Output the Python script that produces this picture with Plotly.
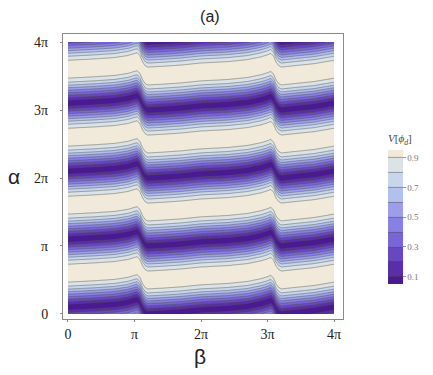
import numpy as np
import plotly.graph_objects as go

# positions, in units of pi
beta_knots = [0.0, 0.4, 0.7, 0.9, 1.0, 1.04, 1.08, 1.12, 1.16, 1.2, 1.4, 1.7, 2.0, 2.4, 2.7, 2.9, 3.0,
              3.05, 3.09, 3.13, 3.17, 3.21, 3.4, 3.7, 4.0]
# alpha position of the dark band centre (minus the integer multiple of pi)
band_shift = [0.10, 0.12, 0.14, 0.17, 0.20, 0.21, 0.17, 0.08, 0.02, 0.0, 0.01, 0.03, 0.06, 0.08, 0.11, 0.15, 0.18,
              0.20, 0.16, 0.07, 0.02, 0.0, 0.02, 0.05, 0.10]

# value of V[phi_d] against distance from the dark band centre (units of pi)
dist_knots = [0.0, 0.044, 0.081, 0.118, 0.154, 0.191, 0.228, 0.265, 0.309, 0.368, 0.43, 0.5]
v_knots = [0.0, 0.1, 0.2, 0.3, 0.4, 0.5, 0.6, 0.7, 0.8, 0.9, 0.97, 1.0]

band_colors = ['rgb(74,26,146)', 'rgb(90,46,168)', 'rgb(104,72,192)', 'rgb(120,102,214)', 'rgb(136,128,228)',
               'rgb(156,158,234)', 'rgb(178,192,238)', 'rgb(199,214,237)', 'rgb(219,227,230)', 'rgb(241,233,218)']
cbar_ticks = [0.1, 0.3, 0.5, 0.7, 0.9]
pi_ticks = ['0', 'π', '2π', '3π', '4π']

# build the grid table plotly needs
beta = np.linspace(0, 4, 401)
alpha = np.linspace(0, 4, 401)
shift = np.interp(beta, beta_knots, band_shift)
d = alpha[:, None] - shift[None, :]
d = np.abs(d - np.round(d))
z = np.round(np.interp(d, dist_knots, v_knots), 4)

n = len(band_colors)
cscale = [[i / (n - 1), c] for i, c in enumerate(band_colors)]

fig = go.Figure(go.Contour(
    x=beta, y=alpha, z=z,
    colorscale=cscale,
    contours=dict(start=0.1, end=0.9, size=0.1, coloring='fill'),
    line=dict(color='rgba(80,80,75,0.6)', width=0.8, smoothing=1),
    colorbar=dict(
        title=dict(text='<i>V</i>[<i>ϕ<sub>d</sub></i>]', side='top',
                   font=dict(family='Liberation Serif', size=11, color='#444')),
        x=1.161, xanchor='left', xpad=0, y=0.391, yanchor='middle', ypad=0,
        len=153, lenmode='pixels', thickness=15, outlinewidth=0,
        tickvals=cbar_ticks, ticks='outside', ticklen=3, tickcolor='#999',
        tickfont=dict(family='Liberation Serif', size=9, color='#777')),
))

axis_common = dict(tickvals=[0, 1, 2, 3, 4], ticktext=pi_ticks, showgrid=False, zeroline=False,
                   showline=True, mirror=True, linecolor='#8a8a8a', linewidth=1,
                   ticks='outside', ticklen=2, tickcolor='#8a8a8a',
                   tickfont=dict(family='Liberation Serif', size=14, color='#222'))

# page body adds an 8px offset, so the figure is drawn 8px smaller
fig.update_layout(
    width=425, height=367,
    margin=dict(l=55, r=90, t=26, b=56, autoexpand=False),
    paper_bgcolor='white', plot_bgcolor='white',
    title=dict(text='(a)', x=0.475, xanchor='center', y=0.978, yanchor='middle',
               font=dict(family='Arial', size=16, color='#222')),
    xaxis=dict(range=[-0.075, 4.135], **axis_common),
    yaxis=dict(range=[-0.074, 4.118], **axis_common),
    showlegend=False,
)
fig.update_xaxes(ticklabelstandoff=0)
fig.update_yaxes(ticklabelstandoff=9)

fig.add_annotation(text='α', xref='paper', yref='paper', x=-0.176, y=0.5, xanchor='center', yanchor='middle',
                   showarrow=False, font=dict(family='Arial', size=21, color='#222'))
fig.add_annotation(text='β', xref='paper', yref='paper', x=0.49, y=-0.133, xanchor='center', yanchor='middle',
                   showarrow=False, font=dict(family='Arial', size=21, color='#222'))

fig.write_html("out.html")
